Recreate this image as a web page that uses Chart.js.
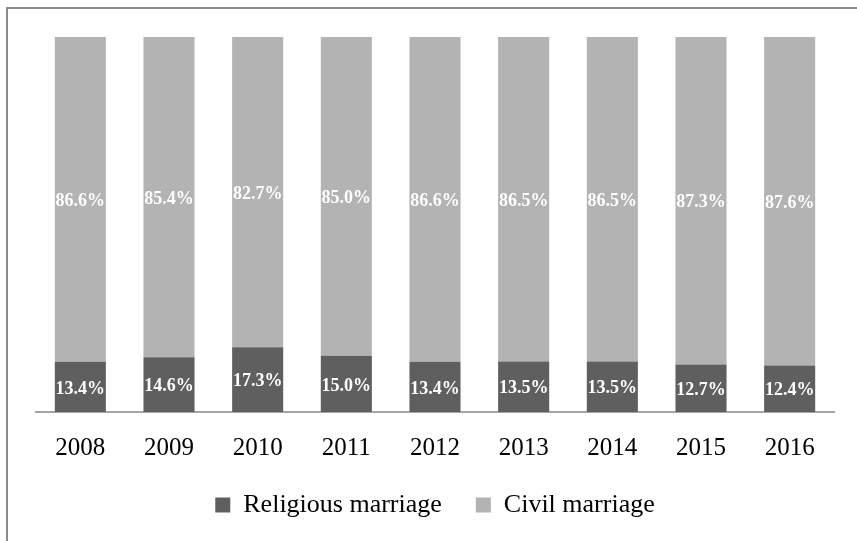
<!DOCTYPE html>
<html>
<head>
<meta charset="utf-8">
<script src="https://cdn.jsdelivr.net/npm/chart.js@4"></script>
<style>
  html, body { margin: 0; padding: 0; background: #fff; }
  #wrap { position: relative; width: 857px; height: 541px; }
  #frame { position: absolute; left: 6px; top: 7px; right: 0; bottom: 0;
           border-top: 2px solid #8c8c8c; border-left: 2px solid #8c8c8c; }
  canvas { position: absolute; left: 0; top: 0; }
</style>
</head>
<body>
<div id="wrap">
  <div id="frame"></div>
  <canvas id="chart" width="857" height="541"></canvas>
</div>
<script>
const years = ['2008', '2009', '2010', '2011', '2012', '2013', '2014', '2015', '2016'];
const religious = [13.4, 14.6, 17.3, 15.0, 13.4, 13.5, 13.5, 12.7, 12.4];
const civil = [86.6, 85.4, 82.7, 85.0, 86.6, 86.5, 86.5, 87.3, 87.6];

const serif = "'Liberation Serif', 'DejaVu Serif', serif";

// draw the percent labels in the middle of each segment
const barLabels = {
    id: 'barLabels',
    afterDatasetsDraw(chart) {
        const ctx = chart.ctx;
        ctx.save();
        ctx.fillStyle = '#ffffff';
        ctx.font = 'bold 18px ' + serif;
        ctx.textAlign = 'center';
        ctx.textBaseline = 'middle';
        chart.data.datasets.forEach((ds, i) => {
            const meta = chart.getDatasetMeta(i);
            meta.data.forEach((bar, j) => {
                const p = bar.getCenterPoint();
                ctx.fillText(ds.data[j].toFixed(1) + '%', p.x, p.y + 2);
            });
        });
        ctx.restore();
    }
};

const ctx = document.getElementById('chart').getContext('2d');
const chart = new Chart(ctx, {
    type: 'bar',
    data: {
        labels: years,
        datasets: [
            {
                label: 'Religious marriage',
                data: religious,
                backgroundColor: '#5f5f5f',
                barPercentage: 0.576,
                categoryPercentage: 1.0
            },
            {
                label: 'Civil marriage',
                data: civil,
                backgroundColor: '#b3b3b3',
                barPercentage: 0.576,
                categoryPercentage: 1.0
            }
        ]
    },
    options: {
        responsive: false,
        animation: false,
        layout: { padding: { top: 37, left: 36, right: 23, bottom: 13 } },
        scales: {
            x: {
                stacked: true,
                grid: { display: false, drawTicks: true, tickLength: 26 },
                border: { display: true, color: '#a6a6a6', width: 2 },
                ticks: { color: '#000', font: { family: serif, size: 25 }, padding: -5 }
            },
            y: {
                stacked: true,
                display: false,
                min: 0,
                max: 100
            }
        },
        plugins: {
            tooltip: { enabled: false },
            legend: {
                position: 'bottom',
                labels: {
                    color: '#000',
                    font: { family: serif, size: 26 },
                    boxWidth: 15,
                    boxHeight: 15,
                    padding: 34
                }
            }
        }
    },
    plugins: [barLabels]
});
</script>
</body>
</html>
